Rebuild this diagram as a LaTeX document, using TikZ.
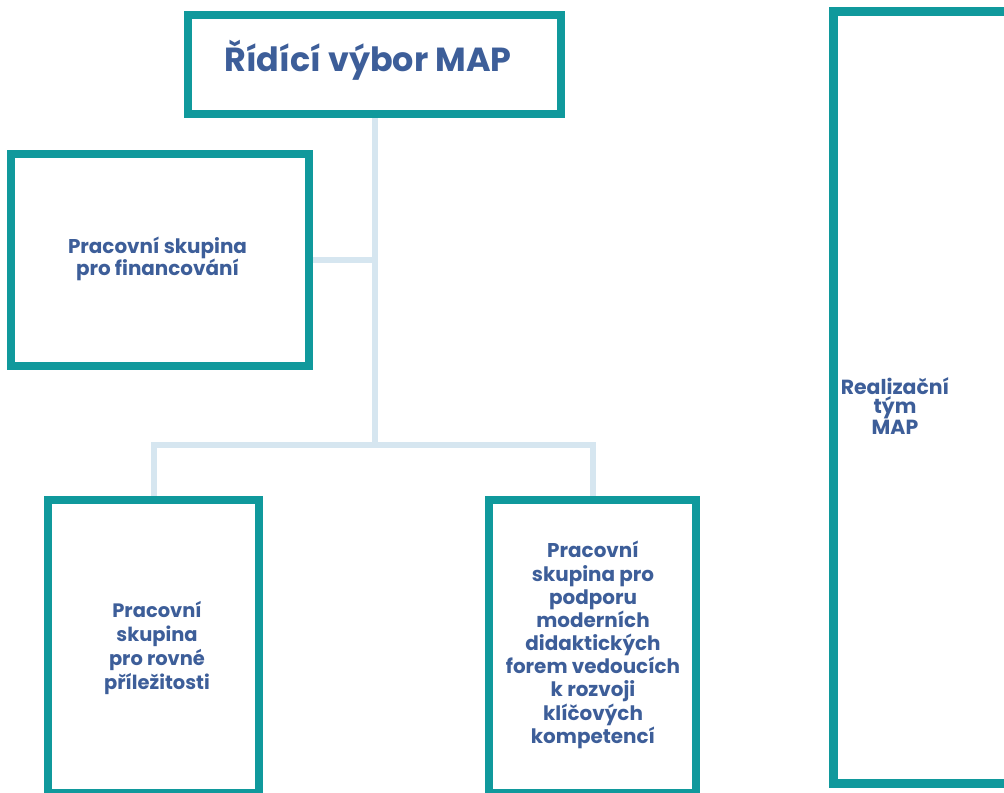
\documentclass[tikz,border=0pt]{standalone}
\usepackage{fontspec}
\setmainfont{Poppins}
\definecolor{teal1}{RGB}{16,153,156}
\definecolor{txt}{RGB}{61,94,153}
\definecolor{conn}{RGB}{214,230,240}
\pgfdeclarelayer{bg}
\pgfsetlayers{bg,main}
\begin{document}
\begin{tikzpicture}[x=1bp,y=-1bp,
  box/.style={draw=teal1,line width=8bp,fill=white,inner sep=0pt,minimum width=#1},
  lbl/.style={text=txt,font=\bfseries\fontsize{20}{22}\selectfont,align=center,inner sep=0pt},
  connector/.style={draw=conn,line width=6bp}]
\useasboundingbox (0,0) rectangle (1004,793);
\clip (0,0) rectangle (1004,793);
% boxes (centre lines)
\node[box=373bp,minimum height=99bp] (top) at (374.5,64.5) {};
\node[box=298bp,minimum height=212bp] (fin) at (160,260) {};
\node[box=211bp,minimum height=293bp] (rov) at (153.5,646.5) {};
\node[box=207bp,minimum height=293bp] (did) at (592.5,646.5) {};
\node[box=187bp,minimum height=772bp,line width=9bp] (real) at (927,397.5) {};
\coordinate (j) at (374.5,445);
% connectors behind the boxes
\begin{pgfonlayer}{bg}
\fill[white] (0,0) rectangle (1004,793);
\draw[connector] (top.south) -- (j);
\draw[connector] (fin.east) -- (fin.east -| top.south);
\draw[connector] (rov.north) -- (rov.north |- j) -- (did.north |- j) -- (did.north);
\end{pgfonlayer}
% texts
\node[lbl,font=\bfseries\fontsize{33.5}{40}\selectfont,anchor=base] (ttop) at (368,72) {Řídící výbor MAP};
\node[lbl] (tfin) at (157.5,259) {Pracovní skupina\\ pro financování};
\node[lbl,font=\bfseries\fontsize{19.5}{24}\selectfont] (trov) at (157,648) {Pracovní\\ skupina\\ pro rovné\\ příležitosti};
\node[lbl,font=\bfseries\fontsize{20}{23.25}\selectfont] (tdid) at (593,645) {Pracovní\\ skupina pro\\ podporu\\ moderních\\ didaktických\\ forem vedoucích\\ k rozvoji\\ klíčových\\ kompetencí};
\node[lbl,font=\bfseries\fontsize{20.5}{18.5}\selectfont] (treal) at (895,406) {Realizační\\ tým\\ MAP};
\end{tikzpicture}
\end{document}
